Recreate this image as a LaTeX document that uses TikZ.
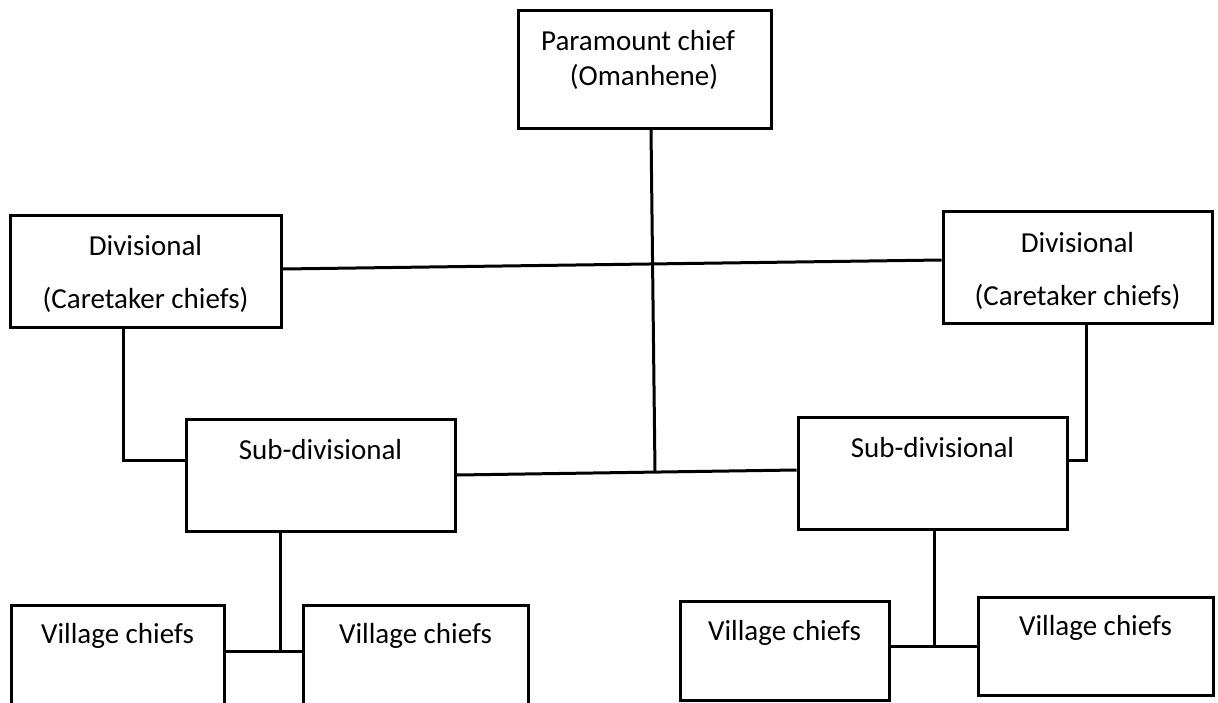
\documentclass[tikz,border=0pt]{standalone}
\usepackage{fontspec}
\setmainfont{Carlito}

\begin{document}
\begin{tikzpicture}[x=1pt, y=-1pt, line width=3pt,
  box/.style={draw, rectangle, inner sep=0pt},
  lbl/.style={anchor=base, font=\fontsize{29}{35}\selectfont}]
  \useasboundingbox (0,0) rectangle (1218,702);
  % Boxes
  \node[box, minimum width=253pt, minimum height=118pt] (para) at (644.5,69) {};
  \node[box, minimum width=271pt, minimum height=112pt] (divL) at (145.5,271) {};
  \node[box, minimum width=269pt, minimum height=112pt] (divR) at (1077.5,267) {};
  \node[box, minimum width=269pt, minimum height=112pt] (subL) at (320.5,475) {};
  \node[box, minimum width=269pt, minimum height=112pt] (subR) at (932.5,473) {};
  \node[box, minimum width=213pt, minimum height=120pt] (villA) at (117.5,665) {};
  \node[box, minimum width=225pt, minimum height=120pt] (villB) at (415.5,665) {};
  \node[box, minimum width=209pt, minimum height=99pt] (villC) at (784.5,650.5) {};
  \node[box, minimum width=235pt, minimum height=98pt] (villD) at (1095.5,646) {};
  % Labels
  \node[lbl] (paraTop) at (638,50) {Paramount chief};
  \node[lbl] (paraBot) at (644,85) {(Omanhene)};
  \node[lbl] (divLTop) at (145.5,255) {Divisional};
  \node[lbl] (divLBot) at (145.5,308) {(Caretaker chiefs)};
  \node[lbl] (divRTop) at (1077.5,252) {Divisional};
  \node[lbl] (divRBot) at (1077.5,305) {(Caretaker chiefs)};
  \node[lbl] (subLTxt) at (320.5,459) {Sub-divisional};
  \node[lbl] (subRTxt) at (932.5,457) {Sub-divisional};
  \node[lbl] (villATxt) at (117.5,643) {Village chiefs};
  \node[lbl] (villBTxt) at (415.5,643) {Village chiefs};
  \node[lbl] (villCTxt) at (784.5,640) {Village chiefs};
  \node[lbl] (villDTxt) at (1095.5,635) {Village chiefs};
  % Lines
  \coordinate (hub) at (655,472);
  \coordinate (junL) at (280,651);
  \coordinate (junR) at (934,646);
  \draw ([xshift=6.5pt]para.south) -- (hub);
  \draw ([yshift=2pt]divL.east) -- ([yshift=7pt]divR.west);
  \draw (subL.east) -- ([yshift=3pt]subR.west);
  \draw ([xshift=-22pt]divL.south) |- ([yshift=15pt]subL.west);
  \draw ([xshift=8.5pt]divR.south) |- ([yshift=13pt]subR.east);
  \draw (subL.south -| junL) -- (junL);
  \draw (villA.east |- junL) -- (villB.west |- junL);
  \draw (subR.south -| junR) -- (junR);
  \draw (villC.east |- junR) -- (villD.west |- junR);
\end{tikzpicture}
\end{document}
